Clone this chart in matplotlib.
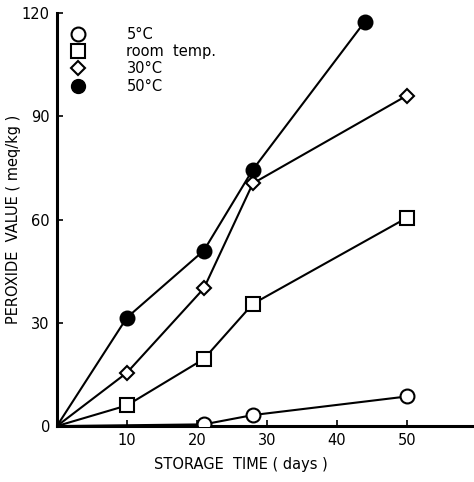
import matplotlib
matplotlib.use("Agg")
import matplotlib.pyplot as plt
from matplotlib.lines import Line2D

# dados
dias_5c = [0, 21, 28, 50]
pv_5c = [0, 0.5, 3.2, 8.6]

dias_amb = [0, 10, 21, 28, 50]
pv_amb = [0, 6.0, 19.5, 35.5, 60.5]

dias_30c = [0, 10, 21, 28, 50]
pv_30c = [0, 15.5, 40.0, 70.5, 96.0]

dias_50c = [0, 10, 21, 28, 44]
pv_50c = [0, 31.5, 51.0, 74.5, 117.5]

rotulos = ["5\u00b0C", "room  temp.", "30\u00b0C", "50\u00b0C"]

plt.rcParams['font.family'] = ['DejaVu Sans']

fig = plt.figure(figsize=(4.74, 4.82), dpi=100)
ax = fig.add_axes([0.120, 0.116, 0.88, 0.857])

estilo = dict(color='black', lw=1.5, ms=10, mew=1.5)
ax.plot(dias_5c, pv_5c, marker='o', mfc='white', mec='black', zorder=3, **estilo)
ax.plot(dias_amb, pv_amb, marker='s', mfc='white', mec='black', zorder=3, **estilo)
ax.plot(dias_30c, pv_30c, marker='D', mfc='white', mec='black', zorder=3,
        **{**estilo, 'ms': 7.5})
ax.plot(dias_50c, pv_50c, marker='o', mfc='black', mec='black', zorder=3, **estilo)

# a origem não leva marcador: esconde os marcadores do ponto 0
for linha in ax.lines:
    linha.set_markevery(list(range(1, len(linha.get_xdata()))))

ax.set_xlim(0, 59.6)
ax.set_ylim(0, 120)
ax.set_xticks([10, 20, 30, 40, 50])
ax.set_yticks([0, 30, 60, 90, 120])
ax.tick_params(direction='in', length=4, width=1.2, labelsize=10.5, pad=5)

for lado in ['top', 'right']:
    ax.spines[lado].set_visible(False)
ax.spines['left'].set_linewidth(2.2)
ax.spines['bottom'].set_linewidth(2.2)

ax.set_xlabel("STORAGE  TIME ( days )", fontsize=10.5)
ax.xaxis.set_label_coords(0.44, -0.075)
ax.set_ylabel("PEROXIDE  VALUE ( meq/kg )", fontsize=10.5)
ax.yaxis.set_label_coords(-0.085, 0.5)

marcas = [
    Line2D([], [], ls='none', marker='o', mfc='white', mec='black', ms=10, mew=1.5),
    Line2D([], [], ls='none', marker='s', mfc='white', mec='black', ms=10, mew=1.5),
    Line2D([], [], ls='none', marker='D', mfc='white', mec='black', ms=7.5, mew=1.5),
    Line2D([], [], ls='none', marker='o', mfc='black', mec='black', ms=10),
]
ax.legend(marcas, rotulos, loc='upper left', bbox_to_anchor=(0.02, 0.98),
          frameon=False, fontsize=10.5, handlelength=1.0, handletextpad=2.8,
          labelspacing=0.15, borderaxespad=0)

fig.savefig("out.png", dpi=100)
